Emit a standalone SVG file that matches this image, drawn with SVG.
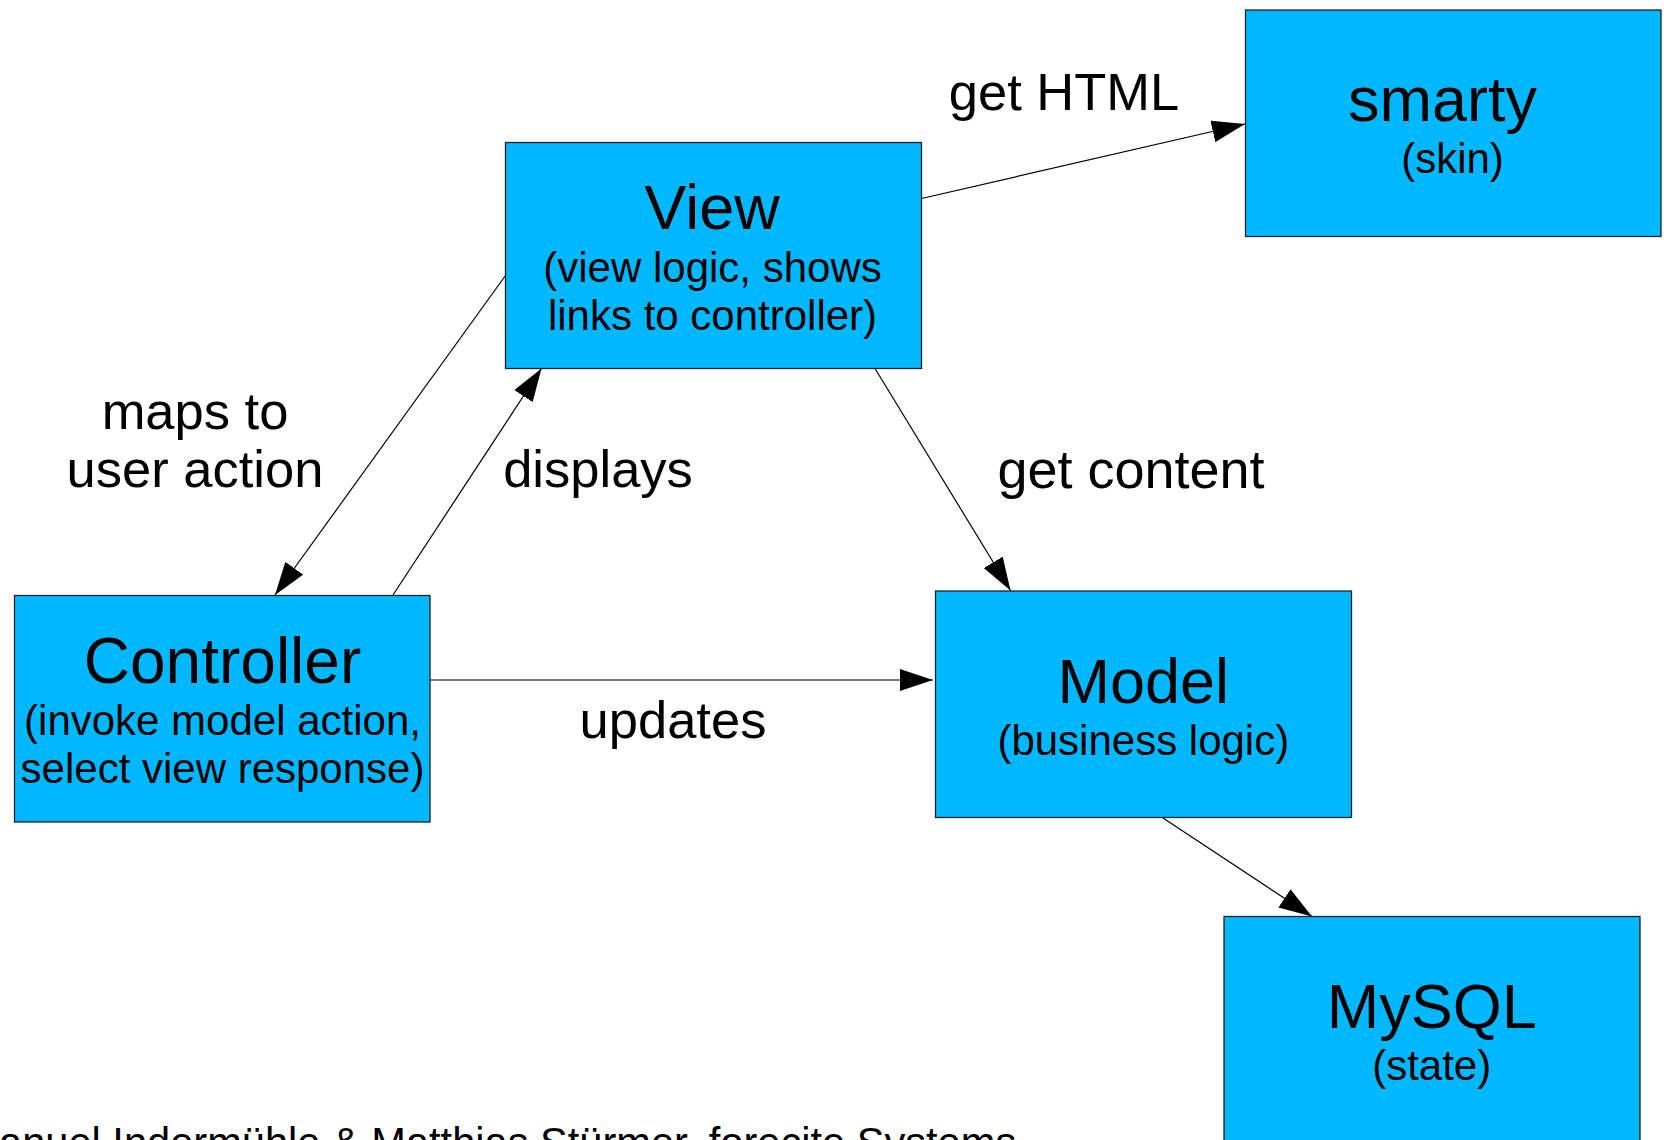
<svg xmlns="http://www.w3.org/2000/svg" width="1664" height="1140" viewBox="0 0 1664 1140">
<defs>
<style>
.box{fill:#00b8ff;stroke:#222;stroke-width:1.3}
.t{font-family:"Liberation Sans",Arial,Helvetica,sans-serif;fill:#000;text-anchor:middle}
.title{font-size:63px}
.sub{font-size:42px}
.lbl{font-size:52.5px}
.edge{stroke:#000;stroke-width:1.2;fill:none;marker-end:url(#arr)}
</style>
<marker id="arr" markerUnits="userSpaceOnUse" markerWidth="34" markerHeight="22" refX="33" refY="11" orient="auto" viewBox="0 0 34 22">
<path d="M0,0 L33,11 L0,22 z" fill="#000"/>
</marker>
</defs>
<rect width="1664" height="1140" fill="#fff"/>
<g id="connectors">
<line class="edge" x1="921.5" y1="198.5" x2="1245" y2="124"/>
<line class="edge" x1="505.5" y1="275.5" x2="275" y2="595"/>
<line class="edge" x1="393" y1="595" x2="541.5" y2="368.5"/>
<line class="edge" x1="875" y1="368.5" x2="1010.5" y2="590.5"/>
<line class="edge" x1="430" y1="680" x2="933" y2="680"/>
<line class="edge" x1="1163" y1="818" x2="1312" y2="916.5"/>
</g>
<g id="edge-labels">
<text class="t lbl" x="1064" y="110">get HTML</text>
<text class="t lbl" x="195" y="429">maps to</text>
<text class="t lbl" x="195" y="487">user action</text>
<text class="t lbl" x="598" y="487">displays</text>
<text class="t lbl" x="1131" y="488" style="font-size:54px">get content</text>
<text class="t lbl" x="673" y="738">updates</text>
</g>
<g id="node-view">
<rect class="box" x="505.5" y="142.5" width="416" height="226"/>
<text class="t title" x="712" y="229">View</text>
<text class="t sub" x="712.5" y="282">(view logic, shows</text>
<text class="t sub" x="712.5" y="330">links to controller)</text>
</g>
<g id="node-smarty">
<rect class="box" x="1245.5" y="10" width="415.5" height="226.5"/>
<text class="t title" x="1442.5" y="121">smarty</text>
<text class="t sub" x="1452.5" y="173">(skin)</text>
</g>
<g id="node-controller">
<rect class="box" x="14.5" y="595.5" width="415.5" height="226.5"/>
<text class="t title" x="222.5" y="683" style="font-size:64px">Controller</text>
<text class="t sub" x="222.5" y="735">(invoke model action,</text>
<text class="t sub" x="222.5" y="783">select view response)</text>
</g>
<g id="node-model">
<rect class="box" x="935.5" y="591" width="416" height="226.5"/>
<text class="t title" x="1143.3" y="703">Model</text>
<text class="t sub" x="1143.3" y="755">(business logic)</text>
</g>
<g id="node-mysql">
<rect class="box" x="1224" y="916.5" width="416" height="240"/>
<text class="t title" x="1431.7" y="1028">MySQL</text>
<text class="t sub" x="1431.7" y="1080">(state)</text>
</g>
<text x="-1" y="1157" style="font-family:'Liberation Sans',Arial,sans-serif;font-size:41.6px;fill:#000">anuel Indermühle &amp; Matthias Stürmer, forecite Systems</text>
</svg>
